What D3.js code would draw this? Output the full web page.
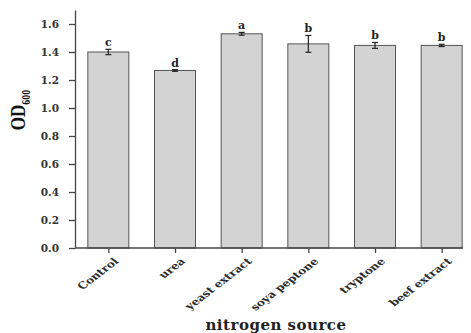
<!DOCTYPE html>
<html>
<head>
<meta charset="utf-8">
<script src="https://cdn.jsdelivr.net/npm/d3@7"></script>
<style>
  body { margin: 0; background: #fff; }
  svg { display: block; }
</style>
</head>
<body>
<div id="chart"></div>
<script>
// Chart values
const sources = ["Control", "urea", "yeast extract", "soya peptone", "tryptone", "beef extract"];
const odValues = [1.40, 1.268, 1.53, 1.458, 1.447, 1.447];
const odErrors = [0.019, 0.006, 0.01, 0.06, 0.021, 0.008];
const sigLetters = ["c", "d", "a", "b", "b", "b"];
const yTicks = [0.0, 0.2, 0.4, 0.6, 0.8, 1.0, 1.2, 1.4, 1.6];

const width = 471;
const height = 333;
const margin = { top: 10, right: -4, bottom: 85, left: 75 };
const barWidth = 41;

const svg = d3.select("#chart")
    .append("svg")
    .attr("width", width)
    .attr("height", height);

const x = d3.scalePoint()
    .domain(sources)
    .range([margin.left, width - margin.right])
    .padding(0.5);

const y = d3.scaleLinear()
    .domain([0, 1.7])
    .range([height - margin.bottom, margin.top]);

const data = sources.map((s, i) => ({ source: s, value: odValues[i], err: odErrors[i], letter: sigLetters[i] }));

// bars
svg.append("g")
    .selectAll("rect")
    .data(data)
    .join("rect")
    .attr("x", d => x(d.source) - barWidth / 2)
    .attr("y", d => y(d.value))
    .attr("width", barWidth)
    .attr("height", d => y(0) - y(d.value))
    .attr("fill", "#d3d3d3")
    .attr("stroke", "#555")
    .attr("stroke-width", 1);

// error bars
const eb = svg.append("g")
    .attr("stroke", "#222")
    .attr("stroke-width", 1.2);
eb.selectAll("line.v")
    .data(data)
    .join("line")
    .attr("class", "v")
    .attr("x1", d => x(d.source)).attr("x2", d => x(d.source))
    .attr("y1", d => y(d.value - d.err)).attr("y2", d => y(d.value + d.err));
eb.selectAll("line.top")
    .data(data)
    .join("line")
    .attr("class", "top")
    .attr("x1", d => x(d.source) - 3).attr("x2", d => x(d.source) + 3)
    .attr("y1", d => y(d.value + d.err)).attr("y2", d => y(d.value + d.err));
eb.selectAll("line.bot")
    .data(data)
    .join("line")
    .attr("class", "bot")
    .attr("x1", d => x(d.source) - 3).attr("x2", d => x(d.source) + 3)
    .attr("y1", d => y(d.value - d.err)).attr("y2", d => y(d.value - d.err));

// significance letters
svg.append("g")
    .selectAll("text")
    .data(data)
    .join("text")
    .attr("x", d => x(d.source))
    .attr("y", d => y(d.value + d.err) - 3)
    .attr("text-anchor", "middle")
    .style("font-family", "'DejaVu Serif', serif")
    .style("font-weight", "bold")
    .style("font-size", "11px")
    .attr("fill", "#222")
    .text(d => d.letter);

// y axis
const yAxis = svg.append("g")
    .attr("transform", `translate(${margin.left},0)`)
    .call(d3.axisLeft(y).tickValues(yTicks).tickFormat(d3.format(".1f")).tickSize(6).tickSizeOuter(0).tickPadding(10));
yAxis.selectAll("text")
    .style("font-family", "'DejaVu Serif', serif")
    .style("font-weight", "bold")
    .style("font-size", "10.5px")
    .attr("fill", "#333");
yAxis.selectAll("line, path").attr("stroke", "#444").attr("stroke-width", 1.3);

// x axis
const xAxis = svg.append("g")
    .attr("transform", `translate(0,${y(0)})`)
    .call(d3.axisBottom(x).tickSize(5).tickSizeOuter(0).tickFormat(""));
xAxis.select(".domain").attr("d", `M${margin.left},0H463`);
xAxis.selectAll("line, path").attr("stroke", "#444").attr("stroke-width", 1.3);

// rotated category labels, slightly stretched like the original
svg.append("g")
    .selectAll("text")
    .data(sources)
    .join("text")
    .attr("transform", d => `translate(${x(d) + 11},${y(0) + 14}) scale(1.3,1) rotate(-45)`)
    .attr("text-anchor", "end")
    .style("font-family", "'DejaVu Serif', serif")
    .style("font-weight", "bold")
    .style("font-size", "9.5px")
    .attr("fill", "#2a2a2a")
    .text(d => d);

// axis titles
svg.append("text")
    .attr("x", 276)
    .attr("y", 330)
    .attr("text-anchor", "middle")
    .style("font-family", "'DejaVu Serif', serif")
    .style("font-weight", "bold")
    .style("font-size", "15px")
    .style("letter-spacing", "0.5px")
    .attr("fill", "#222")
    .text("nitrogen source");

const yTitle = svg.append("text")
    .attr("transform", "translate(25,110) scale(1.2,1) rotate(-90)")
    .attr("text-anchor", "middle")
    .style("font-family", "'Liberation Serif', serif")
    .style("font-weight", "bold")
    .style("font-size", "17px")
    .attr("fill", "#111");
yTitle.append("tspan").text("OD");
yTitle.append("tspan")
    .attr("dy", 4)
    .style("font-size", "10px")
    .text("600");
</script>
</body>
</html>
